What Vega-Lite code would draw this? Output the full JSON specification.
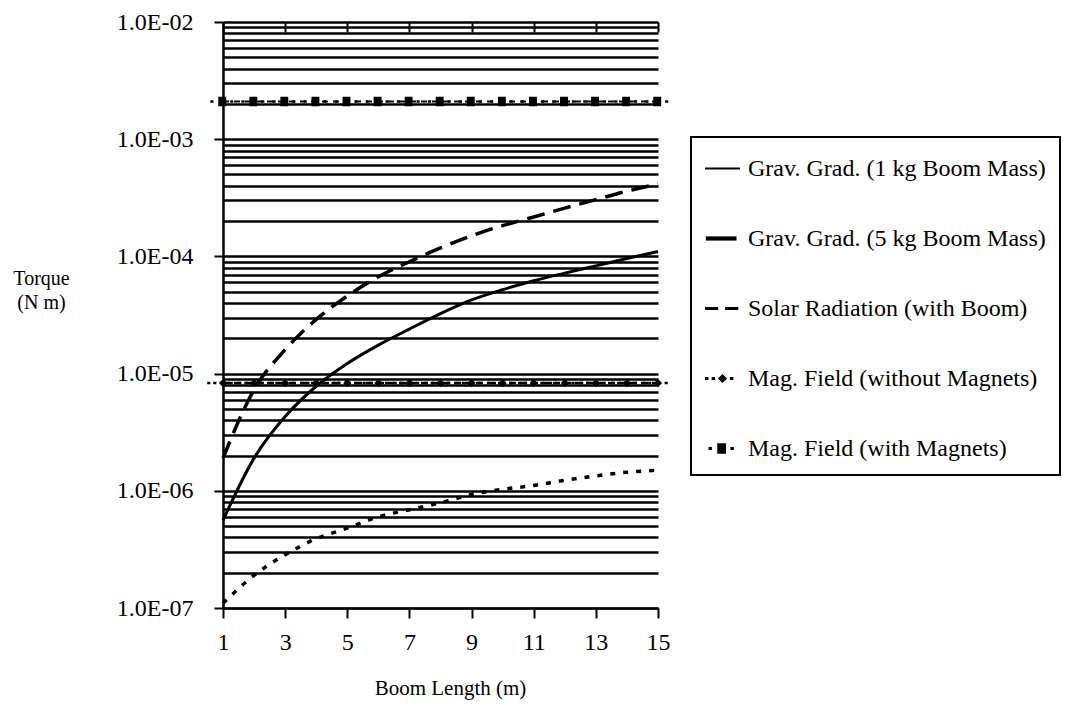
{
  "$schema": "https://vega.github.io/schema/vega-lite/v6.json",
  "width": 435,
  "height": 586,
  "autosize": {"type": "none"},
  "padding": {"left": 223, "top": 22, "right": 415, "bottom": 111},
  "background": "white",
  "config": {
    "view": {"stroke": null},
    "font": "Liberation Serif",
    "legend": {"strokeWidth": 2}
  },
  "data": {
    "values": [
      {"L": 1, "series": "Grav. Grad. (1 kg Boom Mass)", "torque": 5.6e-7},
      {"L": 2, "series": "Grav. Grad. (1 kg Boom Mass)", "torque": 1.9e-6},
      {"L": 3, "series": "Grav. Grad. (1 kg Boom Mass)", "torque": 4.3e-6},
      {"L": 4, "series": "Grav. Grad. (1 kg Boom Mass)", "torque": 7.8e-6},
      {"L": 5, "series": "Grav. Grad. (1 kg Boom Mass)", "torque": 1.22e-5},
      {"L": 6, "series": "Grav. Grad. (1 kg Boom Mass)", "torque": 1.75e-5},
      {"L": 7, "series": "Grav. Grad. (1 kg Boom Mass)", "torque": 2.4e-5},
      {"L": 8, "series": "Grav. Grad. (1 kg Boom Mass)", "torque": 3.25e-5},
      {"L": 9, "series": "Grav. Grad. (1 kg Boom Mass)", "torque": 4.25e-5},
      {"L": 10, "series": "Grav. Grad. (1 kg Boom Mass)", "torque": 5.2e-5},
      {"L": 11, "series": "Grav. Grad. (1 kg Boom Mass)", "torque": 6.2e-5},
      {"L": 12, "series": "Grav. Grad. (1 kg Boom Mass)", "torque": 7.2e-5},
      {"L": 13, "series": "Grav. Grad. (1 kg Boom Mass)", "torque": 8.3e-5},
      {"L": 14, "series": "Grav. Grad. (1 kg Boom Mass)", "torque": 9.6e-5},
      {"L": 15, "series": "Grav. Grad. (1 kg Boom Mass)", "torque": 1.1e-4},
      {"L": 1, "series": "Grav. Grad. (5 kg Boom Mass)", "torque": 1.9e-6},
      {"L": 2, "series": "Grav. Grad. (5 kg Boom Mass)", "torque": 7.3e-6},
      {"L": 3, "series": "Grav. Grad. (5 kg Boom Mass)", "torque": 1.6e-5},
      {"L": 4, "series": "Grav. Grad. (5 kg Boom Mass)", "torque": 2.9e-5},
      {"L": 5, "series": "Grav. Grad. (5 kg Boom Mass)", "torque": 4.6e-5},
      {"L": 6, "series": "Grav. Grad. (5 kg Boom Mass)", "torque": 6.7e-5},
      {"L": 7, "series": "Grav. Grad. (5 kg Boom Mass)", "torque": 9.0e-5},
      {"L": 8, "series": "Grav. Grad. (5 kg Boom Mass)", "torque": 1.18e-4},
      {"L": 9, "series": "Grav. Grad. (5 kg Boom Mass)", "torque": 1.5e-4},
      {"L": 10, "series": "Grav. Grad. (5 kg Boom Mass)", "torque": 1.83e-4},
      {"L": 11, "series": "Grav. Grad. (5 kg Boom Mass)", "torque": 2.17e-4},
      {"L": 12, "series": "Grav. Grad. (5 kg Boom Mass)", "torque": 2.58e-4},
      {"L": 13, "series": "Grav. Grad. (5 kg Boom Mass)", "torque": 3.05e-4},
      {"L": 14, "series": "Grav. Grad. (5 kg Boom Mass)", "torque": 3.6e-4},
      {"L": 15, "series": "Grav. Grad. (5 kg Boom Mass)", "torque": 4.15e-4},
      {"L": 1, "series": "Solar Radiation (with Boom)", "torque": 1.1e-7},
      {"L": 2, "series": "Solar Radiation (with Boom)", "torque": 1.9e-7},
      {"L": 3, "series": "Solar Radiation (with Boom)", "torque": 2.85e-7},
      {"L": 4, "series": "Solar Radiation (with Boom)", "torque": 3.9e-7},
      {"L": 5, "series": "Solar Radiation (with Boom)", "torque": 4.8e-7},
      {"L": 6, "series": "Solar Radiation (with Boom)", "torque": 6.0e-7},
      {"L": 7, "series": "Solar Radiation (with Boom)", "torque": 6.9e-7},
      {"L": 8, "series": "Solar Radiation (with Boom)", "torque": 7.9e-7},
      {"L": 9, "series": "Solar Radiation (with Boom)", "torque": 9.3e-7},
      {"L": 10, "series": "Solar Radiation (with Boom)", "torque": 1.03e-6},
      {"L": 11, "series": "Solar Radiation (with Boom)", "torque": 1.11e-6},
      {"L": 12, "series": "Solar Radiation (with Boom)", "torque": 1.23e-6},
      {"L": 13, "series": "Solar Radiation (with Boom)", "torque": 1.34e-6},
      {"L": 14, "series": "Solar Radiation (with Boom)", "torque": 1.44e-6},
      {"L": 15, "series": "Solar Radiation (with Boom)", "torque": 1.5e-6},
      {"L": 1, "series": "Mag. Field (without Magnets)", "torque": 8.3e-6},
      {"L": 2, "series": "Mag. Field (without Magnets)", "torque": 8.3e-6},
      {"L": 3, "series": "Mag. Field (without Magnets)", "torque": 8.3e-6},
      {"L": 4, "series": "Mag. Field (without Magnets)", "torque": 8.3e-6},
      {"L": 5, "series": "Mag. Field (without Magnets)", "torque": 8.3e-6},
      {"L": 6, "series": "Mag. Field (without Magnets)", "torque": 8.3e-6},
      {"L": 7, "series": "Mag. Field (without Magnets)", "torque": 8.3e-6},
      {"L": 8, "series": "Mag. Field (without Magnets)", "torque": 8.3e-6},
      {"L": 9, "series": "Mag. Field (without Magnets)", "torque": 8.3e-6},
      {"L": 10, "series": "Mag. Field (without Magnets)", "torque": 8.3e-6},
      {"L": 11, "series": "Mag. Field (without Magnets)", "torque": 8.3e-6},
      {"L": 12, "series": "Mag. Field (without Magnets)", "torque": 8.3e-6},
      {"L": 13, "series": "Mag. Field (without Magnets)", "torque": 8.3e-6},
      {"L": 14, "series": "Mag. Field (without Magnets)", "torque": 8.3e-6},
      {"L": 15, "series": "Mag. Field (without Magnets)", "torque": 8.3e-6},
      {"L": 1, "series": "Mag. Field (with Magnets)", "torque": 2.1e-3},
      {"L": 2, "series": "Mag. Field (with Magnets)", "torque": 2.1e-3},
      {"L": 3, "series": "Mag. Field (with Magnets)", "torque": 2.1e-3},
      {"L": 4, "series": "Mag. Field (with Magnets)", "torque": 2.1e-3},
      {"L": 5, "series": "Mag. Field (with Magnets)", "torque": 2.1e-3},
      {"L": 6, "series": "Mag. Field (with Magnets)", "torque": 2.1e-3},
      {"L": 7, "series": "Mag. Field (with Magnets)", "torque": 2.1e-3},
      {"L": 8, "series": "Mag. Field (with Magnets)", "torque": 2.1e-3},
      {"L": 9, "series": "Mag. Field (with Magnets)", "torque": 2.1e-3},
      {"L": 10, "series": "Mag. Field (with Magnets)", "torque": 2.1e-3},
      {"L": 11, "series": "Mag. Field (with Magnets)", "torque": 2.1e-3},
      {"L": 12, "series": "Mag. Field (with Magnets)", "torque": 2.1e-3},
      {"L": 13, "series": "Mag. Field (with Magnets)", "torque": 2.1e-3},
      {"L": 14, "series": "Mag. Field (with Magnets)", "torque": 2.1e-3},
      {"L": 15, "series": "Mag. Field (with Magnets)", "torque": 2.1e-3}
    ]
  },
  "encoding": {
    "x": {
      "field": "L",
      "type": "quantitative",
      "scale": {"domain": [1, 15], "nice": false, "zero": false},
      "axis": {
        "title": "Boom Length (m)",
        "values": [1, 3, 5, 7, 9, 11, 13, 15],
        "format": "d",
        "labelFont": "Liberation Serif",
        "labelFontSize": 24,
        "labelColor": "black",
        "labelFlush": false,
        "labelPadding": 12,
        "tickSize": 10,
        "tickWidth": 2,
        "tickColor": "black",
        "domainColor": "black",
        "domainWidth": 2,
        "grid": true,
        "gridColor": "black",
        "gridWidth": 2,
        "gridOpacity": 1,
        "gridDash": [10, 600],
        "titleFont": "Liberation Serif",
        "titleFontSize": 21,
        "titleFontWeight": "normal",
        "titleColor": "black",
        "titleX": 227,
        "titleY": 80,
        "titleAlign": "center",
        "titleBaseline": "middle"
      }
    },
    "y": {
      "field": "torque",
      "type": "quantitative",
      "scale": {"type": "log", "domain": [1e-7, 1e-2], "nice": false},
      "axis": {
        "title": ["Torque", "(N m)"],
        "values": [1e-7, 2e-7, 3e-7, 4e-7, 5e-7, 6e-7, 7e-7, 8e-7, 9e-7,
                   1e-6, 2e-6, 3e-6, 4e-6, 5e-6, 6e-6, 7e-6, 8e-6, 9e-6,
                   1e-5, 2e-5, 3e-5, 4e-5, 5e-5, 6e-5, 7e-5, 8e-5, 9e-5,
                   1e-4, 2e-4, 3e-4, 4e-4, 5e-4, 6e-4, 7e-4, 8e-4, 9e-4,
                   1e-3, 2e-3, 3e-3, 4e-3, 5e-3, 6e-3, 7e-3, 8e-3, 9e-3, 1e-2],
        "labelExpr": "abs(log(datum.value)/LN10 - round(log(datum.value)/LN10)) < 0.001 ? '1.0E-0' + (-round(log(datum.value)/LN10)) : ''",
        "labelOverlap": false,
        "labelFont": "Liberation Serif",
        "labelFontSize": 24,
        "labelColor": "black",
        "labelPadding": 21,
        "labelBaseline": "middle",
        "tickSize": 9,
        "tickWidth": 2,
        "tickColor": "black",
        "tickOpacity": {"condition": {"test": "abs(log(datum.value)/LN10 - round(log(datum.value)/LN10)) < 0.001", "value": 1}, "value": 0},
        "domainColor": "black",
        "domainWidth": 2.5,
        "grid": true,
        "gridColor": "black",
        "gridWidth": 2.5,
        "gridOpacity": 1,
        "titleFont": "Liberation Serif",
        "titleFontSize": 20,
        "titleFontWeight": "normal",
        "titleColor": "black",
        "titleAngle": 0,
        "titleAlign": "center",
        "titleBaseline": "middle",
        "titleLineHeight": 24,
        "titleX": -182,
        "titleY": 256
      }
    }
  },
  "layer": [
    {
      "transform": [{"filter": "datum.series === 'Grav. Grad. (1 kg Boom Mass)'"}],
      "mark": {"type": "line", "color": "black", "strokeWidth": 3, "interpolate": "monotone"}
    },
    {
      "transform": [{"filter": "datum.series === 'Grav. Grad. (5 kg Boom Mass)'"}],
      "mark": {"type": "line", "color": "black", "strokeWidth": 3.5, "strokeDash": [18, 9], "interpolate": "monotone"}
    },
    {
      "transform": [{"filter": "datum.series === 'Solar Radiation (with Boom)'"}],
      "mark": {"type": "line", "color": "black", "strokeWidth": 3.5, "strokeDash": [5, 8], "interpolate": "monotone"}
    },
    {
      "transform": [{"filter": "datum.series === 'Mag. Field (without Magnets)'"}],
      "mark": {"type": "line", "color": "black", "strokeWidth": 2.5, "strokeDash": [7, 4]}
    },
    {
      "transform": [{"filter": "datum.series === 'Mag. Field (with Magnets)'"}],
      "mark": {"type": "line", "color": "black", "strokeWidth": 2, "strokeDash": [6, 5]}
    },
    {
      "transform": [{"filter": "datum.series === 'Mag. Field (without Magnets)' || datum.series === 'Mag. Field (with Magnets)'"}],
      "mark": {"type": "point", "filled": true, "color": "black", "opacity": 1, "size": 1000},
      "encoding": {
        "shape": {
          "field": "series",
          "type": "nominal",
          "scale": {
            "domain": ["Grav. Grad. (1 kg Boom Mass)", "Grav. Grad. (5 kg Boom Mass)", "Solar Radiation (with Boom)", "Mag. Field (without Magnets)", "Mag. Field (with Magnets)"],
            "range": [
              "M-1,-0.06H1V0.06H-1Z",
              "M-0.95,-0.12H0.8V0.12H-0.95Z",
              "M-1,-0.08H-0.25V0.08H-1Z M0.15,-0.08H0.9V0.08H0.15Z",
              "M-1,-0.08H-0.8V0.08H-1Z M-0.62,-0.08H-0.42V0.08H-0.62Z M-0.26,0L0,-0.26L0.26,0L0,0.26Z M0.42,-0.08H0.62V0.08H0.42Z",
              "M-0.8,-0.08H-0.6V0.08H-0.8Z M-0.3,-0.3H0.2V0.3H-0.3Z M0.45,-0.08H0.65V0.08H0.45Z"
            ]
          },
          "legend": {
            "title": null,
            "orient": "none",
            "legendX": 468,
            "legendY": 115,
            "fillColor": "white",
            "strokeColor": "black",
            "padding": 14,
            "labelFont": "Liberation Serif",
            "labelFontSize": 24,
            "labelColor": "black",
            "labelLimit": 0,
            "labelOffset": 8,
            "rowPadding": 40,
            "symbolSize": 1225,
            "symbolFillColor": "black",
            "symbolStrokeWidth": 0,
            "symbolOpacity": 1
          }
        }
      }
    }
  ]
}
